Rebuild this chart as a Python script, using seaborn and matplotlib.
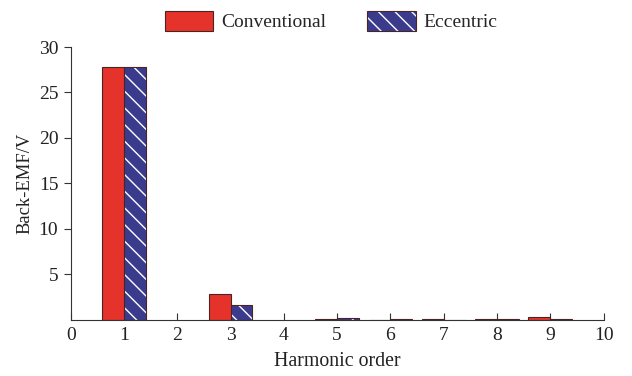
import matplotlib
matplotlib.use("Agg")
import matplotlib.pyplot as plt
import seaborn as sns
import pandas as pd
from matplotlib.patches import Patch

orders = [1, 3, 5, 6, 7, 8, 9]
conventional = [27.8, 2.85, 0.10, 0.00, 0.08, 0.08, 0.30]
eccentric = [27.8, 1.70, 0.20, 0.08, 0.00, 0.08, 0.12]
series_names = ["Conventional", "Eccentric"]
x_ticks = list(range(0, 11))
y_ticks = [5, 10, 15, 20, 25, 30]

df = pd.DataFrame({
    "order": orders * 2,
    "value": conventional + eccentric,
    "type": [series_names[0]] * len(orders) + [series_names[1]] * len(orders),
})

sns.set_style("ticks")
plt.rcParams["font.family"] = ["Liberation Serif", "DejaVu Serif"]
plt.rcParams["hatch.linewidth"] = 1.0

red = "#e5332b"
navy = "#3b3b8e"
edge = "#4a2424"

fig = plt.figure(figsize=(6.32, 3.76), dpi=100)
ax = fig.add_axes([0.112, 0.149, 0.843, 0.726])

sns.barplot(data=df, x="order", y="value", hue="type", native_scale=True,
            width=0.82, palette=[red, navy], saturation=1, edgecolor=edge,
            linewidth=0.8, legend=False, ax=ax, errorbar=None)

n = len(orders)
for i, p in enumerate(ax.patches):
    if i >= n:
        p.set_hatch("\\\\")
        p._hatch_color = (1, 1, 1, 1)

ax.set_xlim(0, 10)
ax.set_ylim(0, 30)
ax.set_xticks(x_ticks)
ax.set_xticklabels([str(t) for t in x_ticks])
ax.set_yticks(y_ticks)
ax.set_yticklabels([str(t) for t in y_ticks])
ax.tick_params(axis="x", direction="in", length=5, width=0.8, colors="#333333",
               labelsize=14, pad=5, labelcolor="#222222")
ax.tick_params(axis="y", direction="out", length=5, width=0.8, colors="#333333",
               labelsize=14, pad=4, labelcolor="#222222")
for s in ["top", "right"]:
    ax.spines[s].set_visible(False)
for s in ["left", "bottom"]:
    ax.spines[s].set_color("#333333")
    ax.spines[s].set_linewidth(0.8)

ax.set_xlabel("Harmonic order", fontsize=14.3, color="#222222", labelpad=6)
ax.set_ylabel("Back-EMF/V", fontsize=13.4, color="#222222", labelpad=3.5)

h1 = Patch(facecolor=red, edgecolor=edge, linewidth=0.8)
h2 = Patch(facecolor=navy, edgecolor=edge, linewidth=0.8, hatch="\\\\")
h2._hatch_color = (1, 1, 1, 1)
fig.legend([h1, h2], series_names, loc="center", bbox_to_anchor=(0.524, 0.944),
           ncol=2, frameon=False, fontsize=14, handlelength=2.5, handleheight=1.2,
           columnspacing=2.1, handletextpad=0.4)

fig.savefig("out.png", dpi=100)
